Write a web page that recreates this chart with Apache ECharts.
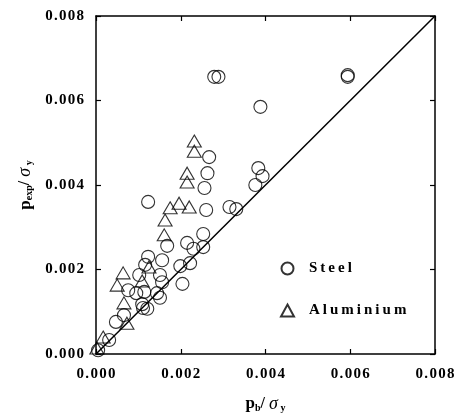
<!DOCTYPE html>
<html><head><meta charset="utf-8">
<script src="https://cdn.jsdelivr.net/npm/echarts@6/dist/echarts.min.js"></script>
<style>html,body{margin:0;padding:0;background:#fff}#c{width:461px;height:415px}</style>
</head><body><div id="c"></div>
<script>
// Steel: [pb/σy, pexp/σy]
var steelX = [0.00279,0.00289,0.00594,0.00594,0.00388,0.00267,0.00263,0.00256,0.00383,0.00393,0.00376,0.00260,0.00315,0.00331,0.00123,0.00253,0.00215,0.00168,0.00230,0.00253,0.00123,0.00156,0.00116,0.00199,0.00222,0.00102,0.00151,0.00156,0.00204,0.00076,0.00095,0.00114,0.00144,0.00151,0.00109,0.00121,0.00111,0.00066,0.00047,0.00031,0.00005];
var steelY = [0.00656,0.00656,0.00660,0.00656,0.00585,0.00466,0.00428,0.00393,0.00440,0.00421,0.00400,0.00341,0.00348,0.00343,0.00360,0.00284,0.00263,0.00256,0.00249,0.00253,0.00230,0.00222,0.00211,0.00208,0.00215,0.00187,0.00187,0.00170,0.00166,0.00151,0.00144,0.00147,0.00144,0.00133,0.00118,0.00107,0.00109,0.00092,0.00076,0.00033,0.00009];
// Aluminium
var aluX = [0.00232,0.00232,0.00215,0.00215,0.00196,0.00175,0.00220,0.00163,0.00161,0.00125,0.00064,0.00050,0.00109,0.00066,0.00073,0.00017,0.00002];
var aluY = [0.00504,0.00480,0.00428,0.00407,0.00357,0.00346,0.00348,0.00317,0.00282,0.00206,0.00192,0.00163,0.00173,0.00121,0.00073,0.00040,0.00014];
var refLineX = [0, 0.008];
var axisTicks = [0, 0.002, 0.004, 0.006, 0.008];

function zip(a,b){return a.map(function(v,i){return [v,b[i]];});}
function spaced(s, sp){return s.split('').join(sp || '\u200A');}
var FONT = '"Liberation Serif","Times New Roman",serif';
var tickLabel = {show:true,fontFamily:FONT,fontWeight:'bold',fontSize:15,color:'#000',formatter:function(v){return spaced(v.toFixed(3));}};
var axLine = {show:true,onZero:false,lineStyle:{color:'#000',width:1.5}};
var axTick = {show:true,inside:true,length:5,lineStyle:{color:'#000',width:1.2}};
var rich = {
  p:{fontFamily:FONT,fontWeight:'bold',fontSize:17,color:'#000'},
  sub:{fontFamily:FONT,fontWeight:'bold',fontSize:10,color:'#000',verticalAlign:'bottom',padding:[6,0,0,0]},
  sl:{fontFamily:FONT,fontWeight:'bold',fontSize:16,color:'#000'},
  sig:{fontFamily:FONT,fontStyle:'italic',fontSize:18,color:'#000'}
};
function baseAxis(pos, name, gap, showLabel, margin){
  return {type:'value',position:pos,min:0,max:0.008,interval:0.002,show:true,
    axisLine:axLine,axisTick:axTick,splitLine:{show:false},
    axisLabel:showLabel?Object.assign({margin:margin},tickLabel):{show:false},
    name:name||'',nameLocation:'middle',nameGap:gap||0,
    nameTextStyle:{rich:rich}};
}
var xName = '{p|p}{sub|b}{sl|/ }{sig|σ}{sub| y}';
var yName = '{p|p}{sub|exp}{sl|/ }{sig|σ}{sub| y}';
var xa = baseAxis('bottom', xName, 41, true, 13);
var ya = baseAxis('left', yName, 57, true, 12);
ya.nameRotate = 90;
var chart = echarts.init(document.getElementById('c'));
chart.setOption({
  animation:false,
  grid:{left:96,right:26,top:16,bottom:61,containLabel:false,outerBoundsMode:'none'},
  xAxis:[xa, baseAxis('top')],
  yAxis:[ya, baseAxis('right')],
  legend:{
    left:275,top:256,orient:'vertical',itemGap:27,itemWidth:13,itemHeight:12,
    textStyle:{fontFamily:FONT,fontWeight:'bold',fontSize:15,color:'#000',padding:[0,0,0,10]},
    formatter:function(n){return spaced(n,'\u2009');},
    data:[{name:'Steel',icon:'circle'},{name:'Aluminium',icon:'triangle'}]
  },
  series:[
    {type:'line',data:zip(refLineX,refLineX),symbol:'none',lineStyle:{color:'#000',width:1.5},silent:true,z:1},
    {name:'Steel',type:'scatter',data:zip(steelX,steelY),symbol:'circle',symbolSize:13,
      itemStyle:{color:'rgba(255,255,255,0)',borderColor:'#000',borderWidth:1.1},z:3},
    {name:'Aluminium',type:'scatter',data:zip(aluX,aluY),symbol:'triangle',symbolSize:[14,12],
      itemStyle:{color:'rgba(255,255,255,0)',borderColor:'#000',borderWidth:1.1},z:3}
  ]
});
</script></body></html>
